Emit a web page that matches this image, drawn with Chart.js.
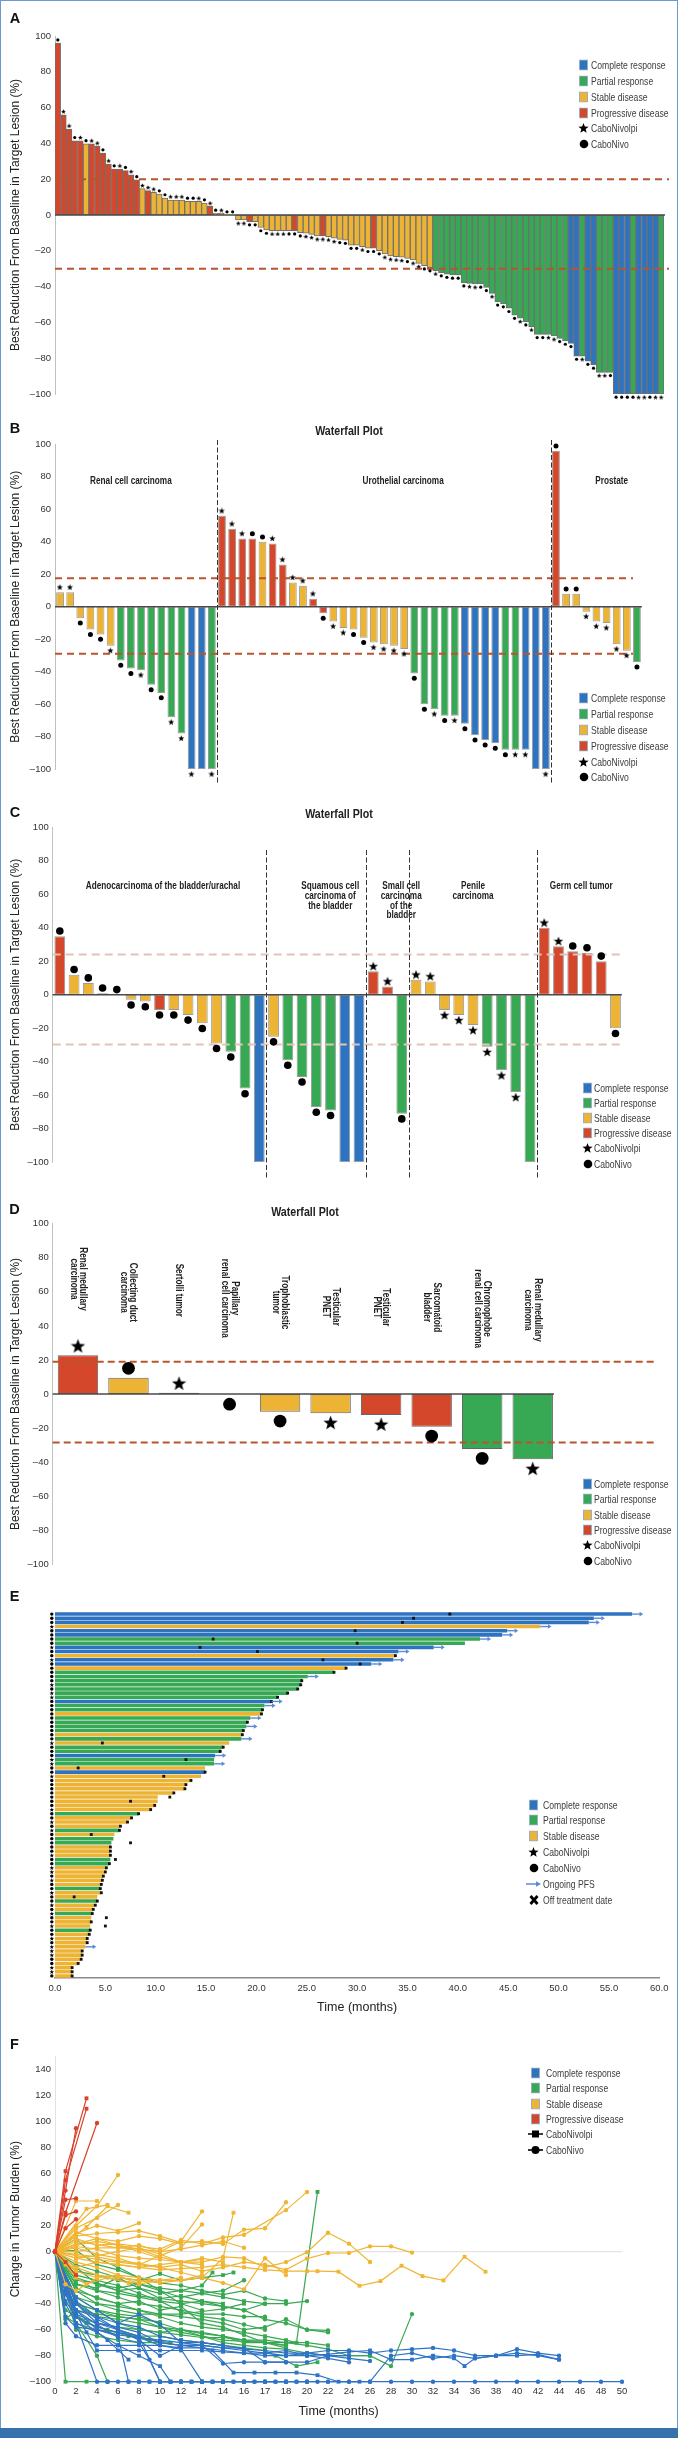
<!DOCTYPE html>
<html><head><meta charset="utf-8">
<script src="https://cdn.jsdelivr.net/npm/chart.js@4.4.0/dist/chart.umd.min.js"></script>
<style>
html,body{margin:0;padding:0;background:#fff}
#page{position:relative;width:678px;height:2438px;overflow:hidden;background:#fff}
#frame{position:absolute;left:0;top:0;width:676px;height:2436px;border:1px solid #6a9ad0;pointer-events:none;z-index:5}
#band{position:absolute;left:0;top:2428px;width:678px;height:10px;background:#3571ab;z-index:6}
canvas{position:absolute;left:0}
.plet{position:absolute;font:bold 14.5px "Liberation Sans",Arial,sans-serif;color:#111;transform:translate(-50%,-50%);z-index:3}
.ptit{position:absolute;font:bold 13px "Liberation Sans",Arial,sans-serif;color:#222;transform:translate(-50%,-50%) scaleX(0.82);white-space:nowrap;z-index:3}
.legt{position:absolute;font:10.5px "Liberation Sans",Arial,sans-serif;color:#3d3d3d;white-space:nowrap;transform:translateY(-50%) scaleX(0.82);transform-origin:left center;line-height:12px;z-index:3}
.legs{position:absolute;line-height:0;z-index:3}
</style></head>
<body><div id="page"><div id="frame"></div><div id="band"></div></div>
<script>
// ---------------- DATA ----------------
// Panel A: all patients
const aValues = [96,56,48,41.5,41.5,39.7,39.7,38.4,34.6,28.5, 25.7,25.7,24.8,22.5,19.6,14.7,13.6,12.7,11.7,9.5,
 8.4,8.4,8.4,7.6,7.6,7.6,6.7,4.8,0.9,0.9, 0,0,-2.8,-2.8,-3.7,-3.7,-7,-8.4,-8.8,-8.8,
 -8.8,-8.8,-8.8,-9.9,-10.2,-10.8,-11.7,-11.7,-12.1,-13, -13.6,-14,-16.8,-16.8,-17.7,-18.6,-18.6,-19.9,-21.8,-22.9,
 -23.3,-23.6,-24.2,-25.1,-27,-28.3,-29.4,-31.1,-32.2,-33, -33.5,-33.5,-37.8,-38.2,-38.5,-38.5,-40.4,-43.8,-48.5,-49.5,
 -52.1,-55.9,-57.7,-59.6,-62.4,-66.7,-66.7,-66.7,-67.6,-68.9, -70.4,-71.7,-78.8,-78.8,-81.6,-83.8,-87.9,-87.9,-87.9,-100,
 -100,-100,-100,-100,-100,-100,-100,-100];
const aResponse = "RRRRRYRRRR"+"RRRRRYRYYY"+"YYYYYYYRYY"+"YYYYRYYYYY"+"YYRYYYYRYY"+"YYYYYYRYYY"+"YYYYYYYGGG"+"GGGGGGGGGG"+"GGGGGGGGGG"+"GBBGBBGGGB"+"BBGBBBBG";
const aArm = "dssdsdssds"+"dsdsdsssdd"+"sssddsdsds"+"ddssddddss"+"sdddssssss"+"ddddsdddss"+"ssdssddsdd"+"dddssddsdd"+"ddsdsddssd"+"dddsddssdd"+"dddssdss";
const aPatients = aValues.map((_, i) => String(i + 1));
const aRefLines = [20, -30];

// Panel B: by tumour type
const bValues = [9,9,-7,-14,-17,-24,-33,-38,-39,-48,-53,-68,-78,-100,-100,-100,
 56,48,42,42,40,39,26,15,13,5,-4,-9,-13,-14,-19,-22,-23,-24,-26,-41,-60,-63,-67,-67,-72,-79,-82,-84,-88,-88,-88,-100,-100,
 96,8,8,-3,-9,-10,-23,-27,-34];
const bResponse = "YYYYYYGGGGGGGBBG"+"RRRRYRRYYR"+"RYYYYYYYY"+"GGGGG"+"BBBB"+"GGB"+"BB"+"RYYYYYYYG";
const bArm = "ssdddsddsddsssds"+"sssddsssss"+"dssddssss"+"ddsds"+"dddd"+"dss"+"ds"+"dddsssssd";
const bPatients = bValues.map((_, i) => String(i + 1));
const bGroupSizes = [16, 33, 9];
const bGroupNames = [["Renal cell carcinoma"], ["Urothelial carcinoma"], ["Prostate"]];
const bRefLines = [17.6, -28.9];

// Panel C: rare tumours
const cValues = [35,12,7,1,0,-3,-4,-9,-9,-12,-17,-29,-34,-56,-100,
 -25,-39,-49,-67,-69,-100,-100,
 14,5,-71,
 9,8,-9,-12,-18,-31,-45,-58,-100,
 40,29,26,25,20,-20];
const cResponse = "RYYYYYYRYYYYGGB"+"YGGGGBB"+"RRG"+"YYYYYGGGG"+"RRRRRY";
const cArm = "ddddddddddddddd"+"ddddddd"+"ssd"+"sssssssss"+"ssdddd";
const cPatients = cValues.map((_, i) => String(i + 1));
const cGroupSizes = [15, 7, 3, 9, 6];
const cGroupNames = [["Adenocarcinoma of the bladder/urachal"], ["Squamous cell","carcinoma of","the bladder"], ["Small cell","carcinoma","of the","bladder"], ["Penile","carcinoma"], ["Germ cell tumor"]];
const cRefLines = [24, -29.7];

// Panel D: ultra-rare tumours
const dTumors = [["Renal medullary","carcinoma"],["Collecting duct","carcinoma"],["Sertolli tumor"],["Papillary","renal cell carcinoma"],["Trophoblastic","tumor"],["Testicular","PNET"],["Testicular","PNET"],["Sarcomatoid","bladder"],["Chromophobe","renal cell carcinoma"],["Renal medullary","carcinoma"]];
const dValues = [22.7, 9.6, 0.8, -0.5, -10.4, -11.3, -12.3, -19.2, -32.3, -38.3];
const dResponse = "RYYNYYRRGG";
const dArm = "sdsddssdds";
const dRefLines = [19, -28.5];

// Panel E: swimmer plot (months)
const eMonths = [57.3,53.5,53.0,48.2,44.9,44.4,42.2,40.7,37.6,34.1, 33.8,33.6,31.4,28.9,27.7,25.1,24.5,24.4,24.1,23.1,
 22.1,21.5,20.8,20.6,20.5,19.4,19.1,19.0,18.7,18.6, 18.5,17.3,16.7,16.5,15.9,15.8,15.8,14.9,14.9,14.5,
 13.6,13.0,12.9,11.8,10.2,10.2,10.0,9.6,8.3,7.6, 7.2,6.5,6.4,5.9,5.8,5.6,5.5,5.5,5.5,5.5,
 5.4,5.1,5.0,4.8,4.7,4.6,4.5,4.6,4.2,4.2, 4.0,3.8,3.7,3.6,3.6,3.5,3.5,3.4,3.2,3.2,
 3.0,2.7,2.7,2.6,2.3,1.7,1.7,1.7];
const eResponse = "BBBYBBGGBB"+"YBBYGGGGGG"+"GBGGYGGGGY"+"GYGGBGGYBY"+"YYYYYYYYGY"+"YYGYGGYYYG"+"GYYYYYGYYG"+"YYGYYYGYYY"+"YYYYYYYY";
const eOffTreatment = [39.2,35.6,34.5,null,29.8,null,15.7,30.0,14.4,20.1, 33.8,26.6,30.3,28.9,27.7,null,24.5,24.4,24.1,23.1,
 22.1,21.5,null,20.6,20.5,null,19.1,null,18.7,18.6, null,4.7,16.7,16.4,null,13.0,null,2.3,14.9,10.8,
 13.5,13.0,12.9,11.8,11.4,7.5,9.9,9.5,8.3,7.6, 7.2,6.5,6.4,3.6,null,7.5,5.5,5.5,5.5,6.0,
 5.4,5.1,5.0,4.8,4.7,4.6,4.5,4.6,1.9,4.2, 4.0,3.8,3.7,5.1,3.6,5.0,3.5,3.4,3.2,3.2,
 null,2.7,2.7,2.6,2.3,1.7,1.7,1.7];
const eOngoing = [1,1,1,1,1,1,1,0,1,1, 0,1,1,0,0,1,0,0,0,0, 0,1,1,0,0,1,0,1,0,0, 1,0,0,0,1,0,1,0,0,0,
 0,0,0,0,0,0,0,0,0,0, 0,0,0,0,0,0,0,0,0,0, 0,0,0,0,0,0,0,0,0,0, 0,0,0,0,0,0,0,0,0,0, 1,0,0,0,0,0,0,0];
const eArm = "dddsddddsd"+"dsdddddsds"+"sddddddddd"+"dsdddssdds"+"dddddddsdd"+"sdsdddddsd"+"dssdsddsdd"+"sdsddsddsd"+"sssddssd";
const eTicks = [0,5,10,15,20,25,30,35,40,45,50,55,60];
const ePatients = eMonths.map((_, i) => String(i + 1));

// Panel F: spider plot, pairs [position, change %]
const fTickLabels = ['0','2','4','6','8','10','12','14','14','16','17','18','20','22','24','26','28','30','32','34','36','38','40','42','44','46','48','50'];
const fRed = [
 [0,0,1,62,3,118],[0,0,1,55,3,110],[0,0,1,47,2,95],[0,0,1,30,4,99],
 [0,0,1,40,2,41],[0,0,1,28,2,31],[0,0,1,18,2,25],[0,0,1,-8,2,-18]];
const fRedArm = "sscccccs";
const fYellow = [
 [0,0,2,20,4,35,6,59],[0,0,2,39,4,39],[0,0,3,33,5,36],[0,0,2,18,4,26,6,36],
 [0,0,3,19,5,35,7,30],[0,0,2,14,4,20,6,16,8,22],
 [0,0,2,12,4,14,6,15,8,16,10,12,12,7,14,8,16,6,18,17,20,18,22,38],
 [0,0,2,10,4,5,6,6,8,4,10,2,12,9,14,6,16,11,18,13,22,32,24,46],
 [0,0,2,8,6,3,8,5,10,0,12,8,14,31],[0,0,2,3,4,-2,6,-5,8,-10,10,-3,12,3,14,21],
 [0,0,2,-8,4,-12,6,-18,8,-20,10,-22,12,-22,14,-20,16,-5,17,30],
 [0,0,2,4,4,2,6,-3,8,-5,10,-6,12,-8,14,-8,16,-4,18,-5,20,-12,22,-8,24,-0.4,26,14.6,28,6.2,30,-7.9],
 [0,0,2,-3,4,-6,6,-8,8,-10,10,-12,12,-10,14,-15,16,-12,18,-8,20,-10,22,-14,24,-5.3,26,-1,28,-1,30,4.1,32,4.1,34,-0.7],
 [0,0,2,-5,4,-8,6,-10,8,-12,10,-14,12,-13,14,-12,16,-10,18,-12,20,-14,22,-15,24,-15,25,-15,27,-15.4,29,-26.2,31,-22.6,33,-10.8,35,-18.8,37,-22.1,39,-3.9,41,-15.4],
 [0,0,1,-10,2,-12,4,-8,6,-10,8,-12,10,-10,12,-8,14,-5,16,-8],
 [0,0,2,0,4,3,6,3,8,2,10,0,12,2,14,5,16,8,18,3],
 [0,0,2,-5,4,-3,6,0,8,3,10,-2,12,-8,14,-6],
 [0,0,2,-15,4,-20,6,-18,8,-25,10,-22,12,-20],
 [0,0,2,-20,3,-25,5,-20,7,-24,9,-22],
 [0,0,1,-25,2,-30,4,-20],
 [0,0,2,15,4,10,6,5,8,0,10,-5],
 [0,0,2,6,4,10,6,8,8,12,10,10,12,6],
 [0,0,2,-2,4,-4,6,-7,8,-9,10,-12,12,-16,14,-20,16,-24,18,-29,20,-5,22,-18],
 [0,0,2,-12,4,-18,6,-20,8,-22,10,-24,12,-22,14,-18],
 [0,0,2,5,4,8,6,5,8,2,10,-4,12,-8,14,-10]];
const fYellowArm = "csscscccccsccsscscscsccsc";
const fBlue = [
 [0,0,1,-40,2,-55,4,-100,5,-100,6,-100,7,-100,8,-100,9,-100,10,-100,11,-100,12,-100,13,-100,14,-100,15,-100,16,-100,17,-100,18,-100,19,-100,20,-100,21,-100,22,-100,23,-100,24,-100,25,-100,26,-100,28,-100,30,-100,32,-100,34,-100,36,-100,38,-100,40,-100,42,-100,44,-100,46,-100,48,-100,50,-100,52,-100,54,-100],
 [0,0,2,-45,4,-60,6,-65,7,-100,8,-100,9,-100,10,-100,11,-100,12,-100,13,-100,14,-100,15,-100,16,-100,17,-100,18,-100,19,-100,20,-100,21,-100,22,-100,23,-100,24,-100],
 [0,0,2,-40,4,-55,6,-60,8,-65,10,-100,12,-100,14,-100,16,-100,18,-100,20,-100,22,-100,24,-100,26,-100,28,-100,30,-100,32,-80,34,-78,36,-82,38,-80,40,-82,42,-80,44,-78,46,-80,48,-83],
 [0,0,2,-50,4,-58,6,-62,8,-66,10,-72,12,-75,14,-100,16,-100,18,-100,20,-100,22,-100],
 [0,0,1,-55,2,-65,4,-72,6,-72,8,-72,10,-72,12,-74,14,-74,16,-76,18,-78,20,-78,22,-80,24,-78,26,-76,28,-76,30,-78,32,-76,34,-75,36,-74,38,-76,40,-80,42,-80,44,-75,46,-78,48,-80],
 [0,0,1,-33,2,-48,3,-62,4,-76,6,-76,8,-76,10,-76,12,-76,14,-76,16,-77,18,-78,20,-80,22,-80,24,-80,26,-79,28,-77,30,-76,32,-83,34,-83,36,-80,38,-82,39,-88,40,-82,42,-80,44,-80,46,-79,48,-83],
 [0,0,2,-40,4,-52,6,-60,8,-68,10,-80,12,-72,14,-72,16,-74,18,-74,20,-85,22,-85,24,-85,26,-80,28,-82,30,-84],
 [0,0,2,-48,4,-55,6,-58,8,-62,10,-70,12,-72,14,-74,15,-76,17,-93,19,-93,21,-93,23,-93,25,-95,27,-100,29,-100],
 [0,0,2,-45,4,-50,6,-55,8,-48,10,-56,12,-70,14,-72,16,-86,18,-85,20,-85,22,-85],
 [0,0,2,-35,4,-45,6,-55,8,-58,10,-65,12,-68,14,-70,16,-72,18,-75,20,-76,22,-78,24,-78,26,-80,28,-80],
 [0,0,1,-30,2,-45,4,-56,6,-66,8,-70,9,-83,10,-100,12,-100],
 [0,0,2,-55,4,-62,5,-68,7,-83],
 [0,0,2,-38,4,-50,6,-60,8,-65,10,-70,12,-72,14,-72,16,-74,18,-76,20,-78,22,-76,24,-80,26,-82,28,-85],
 [0,0,1,-38,2,-50,4,-62,6,-72,8,-80,10,-88,11,-100,12,-100,13,-100,14,-100,15,-100,16,-100],
 [0,0,1,-50,2,-58,4,-60,6,-64,8,-66,10,-68,12,-70,14,-70,16,-72]];
const fBlueArm = "cscscscscscscsc";
const fGreen = [
 [0,0,1,-100,3,-100,5,-100],[0,0,2,-55,4,-80,5,-100],
 [0,0,2,-30,4,-35,6,-40,8,-45,10,-50,12,-55,14,-58,16,-60,18,-62,20,-65,22,-68,23,-70,25,46],
 [0,0,1,-30,2,-40,4,-45,6,-50,8,-52,10,-58,12,-62,14,-65,16,-70,18,-72,20,-74,22,-75,24,-78,26,-80,28,-80,30,-80,32,-88,34,-48],
 [0,0,2,-25,4,-28,6,-20,8,-22,10,-17,12,-22,14,-20,16,-18,17,-16],
 [0,0,2,-20,4,-25,6,-28,8,-25,10,-30,12,-35,14,-32,16,-30,18,-22],
 [0,0,2,-25,4,-30,6,-32,8,-35,10,-38,12,-40,14,-38,16,-42,18,-45,20,-40,22,-40,24,-38],
 [0,0,2,-35,4,-40,6,-42,8,-45,10,-48,12,-50,14,-52,16,-55,18,-60,20,-58,22,-52,24,-60,26,-60.5],
 [0,0,2,-40,4,-45,6,-48,8,-50,10,-55,12,-60,14,-62,16,-65,18,-68,20,-68,22,-70,24,-72,26,-75,28,-80,30,-80],
 [0,0,1,-50,2,-55,4,-60,6,-62,8,-65,10,-65,12,-68,14,-70,16,-72,18,-74,20,-76,21,-80,23,-88,25,-85],
 [0,0,2,-20,4,-30,6,-35,8,-40,10,-42,12,-45,14,-48,16,-48,18,-50,20,-50],
 [0,0,2,-30,4,-40,6,-45,8,-48,10,-48,12,-48,14,-46,16,-44,18,-40],
 [0,0,1,-45,2,-50,4,-55,6,-58,8,-60,10,-62,12,-64,14,-66,16,-66,18,-68,20,-70,22,-72],
 [0,0,2,-28,4,-36,6,-40,8,-38,10,-45,12,-42,14,-55,16,-58,18,-64,20,-70,22,-74],
 [0,0,2,-15,4,-18,6,-22,8,-25,10,-28,12,-30,14,-32,16,-35,18,-38,20,-40],
 [0,0,2,10,4,-5,6,-12,8,-20,10,-30,12,-40,14,-45],
 [0,0,2,-48,3,-55,5,-60,7,-65,9,-68,11,-70],
 [0,0,1,-52,2,-45,4,-48,6,-50,8,-52,10,-54],
 [0,0,2,-10,4,-15,6,-20,8,-28,10,-36,12,-38,14,-40,16,-42,18,-45,20,-52,22,-55,24,-60,26,-62],
 [0,0,2,-35,4,-45,6,-55,8,-60,10,-62,12,-60,14,-63,16,-65,18,-70,20,-70,22,-72],
 [0,0,2,-60,4,-65,6,-68,8,-70,10,-70],
 [0,0,2,-22,4,-24,6,-30,8,-34,10,-36,12,-34,14,-38,16,-40],
 [0,0,2,-18,4,-22,6,-26,8,-32,10,-38,12,-46,14,-50,16,-52,18,-56,20,-60],
 [0,0,2,-12,4,-25,6,-30,8,-28,10,-32,12,-30,14,-26,15,-16],
 [0,0,2,1,4,-10,6,-14,8,-20,10,-24,12,-26,14,-30,16,-33,18,-30,20,-36,22,-38],
 [0,0,2,-40,4,-50,6,-52,8,-55,10,-58,12,-60,14,-65,16,-68,18,-69,20,-70,22,-70,24,-70,26,-72]];
const fGreenArm = "scscscccsscsccscsccscscscs";

// ---------------- STYLE / RENDER ----------------
const FONT = '"Liberation Sans", Arial, sans-serif';
const NX = 0.82; // horizontal condensing for narrow text
const COL = {R:'#d5472b', Y:'#ecb334', G:'#37a853', B:'#2e73c0', N:'rgba(0,0,0,0)'};
const BROWN = '#b8552d', ARROW = '#5b8bd6';
const YTITLE = 'Best Reduction From Baseline in Target Lesion (%)';
Chart.defaults.font.family = FONT;
Chart.defaults.color = '#333';
const page = document.getElementById('page');
const fmt = v => v < 0 ? '\u2013' + Math.abs(v) : String(v);

function mk(top, h) {
  const c = document.createElement('canvas');
  c.width = 678; c.height = h; c.style.top = top + 'px';
  c.style.width = '678px'; c.style.height = h + 'px';
  page.appendChild(c); return c;
}
function drawStar(g, cx, cy, R) {
  g.beginPath();
  for (let i = 0; i < 10; i++) {
    const a = -Math.PI / 2 + i * Math.PI / 5, r = i % 2 ? R * 0.42 : R;
    g.lineTo(cx + r * Math.cos(a), cy + r * Math.sin(a));
  }
  g.closePath(); g.fill();
}
function starCanvas(s) {
  const c = document.createElement('canvas'); c.width = c.height = Math.ceil(s);
  const g = c.getContext('2d'); g.fillStyle = '#000'; drawStar(g, s / 2, s / 2 + s * 0.04, s / 2); return c;
}
function narrowText(ctx, t, x, y) { ctx.save(); ctx.translate(x, y); ctx.scale(NX, 1); ctx.fillText(t, 0, 0); ctx.restore(); }

function drawWF(chart, o) {
  const {ctx, chartArea: ca} = chart, x = chart.scales.x, y = chart.scales.y, n = o.values.length;
  const cw = x.getPixelForValue(1) - x.getPixelForValue(0);
  ctx.save();
  o.refs.forEach(v => {
    const py = y.getPixelForValue(v);
    ctx.strokeStyle = o.refColor; ctx.lineWidth = 2; ctx.setLineDash(o.refDash);
    ctx.beginPath(); ctx.moveTo(ca.left, py); ctx.lineTo(ca.left + o.refLen, py); ctx.stroke();
  });
  ctx.setLineDash([]);
  const z = y.getPixelForValue(0);
  ctx.strokeStyle = '#4a4a4a'; ctx.lineWidth = 1.4;
  ctx.beginPath(); ctx.moveTo(ca.left, z); ctx.lineTo(x.getPixelForValue(n - 1) + cw * o.barPct / 2 + 1, z); ctx.stroke();
  if (o.groups) {
    let acc = 0; const bounds = [];
    o.groups.forEach(g => { acc += g; bounds.push(acc); });
    ctx.strokeStyle = '#333'; ctx.lineWidth = 1; ctx.setLineDash([5, 2.5]);
    bounds.slice(0, -1).forEach(b => {
      const px = Math.round((x.getPixelForValue(b - 1) + x.getPixelForValue(b)) / 2) + 0.5;
      ctx.beginPath(); ctx.moveTo(px, ca.top + o.divTop); ctx.lineTo(px, ca.bottom + o.divBot); ctx.stroke();
    });
    ctx.setLineDash([]);
    ctx.fillStyle = '#1e1e1e'; ctx.font = 'bold 10px ' + FONT; ctx.textAlign = 'center'; ctx.textBaseline = 'middle';
    o.groupNames.forEach((lines, gi) => {
      const px = x.getPixelForValue(0) + cw * o.groupAt[gi];
      lines.forEach((t, li) => narrowText(ctx, t, px, y.getPixelForValue(o.groupY) + li * 9.7));
    });
  }
  if (o.rot) {
    ctx.fillStyle = '#1e1e1e'; ctx.font = 'bold 10px ' + FONT; ctx.textAlign = 'center'; ctx.textBaseline = 'middle';
    o.rot.labels.forEach((lines, i) => {
      ctx.save();
      ctx.translate(x.getPixelForValue(i), y.getPixelForValue(o.rot.at[i]));
      ctx.rotate(Math.PI / 2);
      lines.forEach((t, li) => narrowText(ctx, t, 0, (li - (lines.length - 1) / 2) * 9.4));
      ctx.restore();
    });
  }
  ctx.restore();
}

function waterfall(o) {
  const cv = mk(o.top, o.h);
  const resp = o.resp.split(''), arms = o.arms.split('');
  const mark = w => o.values.map((v, i) => arms[i] === w ? (v >= 0 ? v + o.off : v - o.off) : null);
  return new Chart(cv, {
    type: 'bar',
    data: { labels: o.labels, datasets: [
      {type:'line', data: mark('s'), showLine:false, pointStyle: starCanvas(o.star), pointRadius:3, clip:false, order:0},
      {type:'line', data: mark('d'), showLine:false, pointStyle:'circle', pointRadius:o.dotR, pointBackgroundColor:'#000', pointBorderColor:'#000', pointBorderWidth:0, clip:false, order:0},
      {type:'bar', data: o.values, backgroundColor: resp.map(r => COL[r]), borderColor: resp.map(r => r === 'N' ? 'rgba(0,0,0,0)' : o.border),
       borderWidth: 1, borderSkipped: false, barPercentage: o.barPct, categoryPercentage: 1, order: 1}
    ]},
    options: {
      responsive:false, animation:false, devicePixelRatio:1, events:[],
      layout:{padding:{top:o.pt, bottom:o.pb, right:o.pr, left:0}},
      plugins:{legend:{display:false}, tooltip:{enabled:false}},
      scales:{
        x:{display:false},
        y:{min:-100, max:100, afterFit: s => { s.width = o.ax; },
           ticks:{stepSize:20, padding:4, color:'#333', font:{size:9.5}, callback: v => fmt(v)},
           grid:{display:false, drawTicks:false},
           border:{display:true, color:'#b9c5b9', width:1},
           title:{display:true, text:YTITLE, color:'#222', font:{size:12, family:FONT}, padding:{top:8.8, bottom:0}}}
      }
    },
    plugins:[{id:'wf' + o.top, afterDatasetDraw(chart, args) { if (args.index === 2) drawWF(chart, o); }}]
  });
}

// A
waterfall({top:0, h:410, values:aValues, labels:aPatients, resp:aResponse, arms:aArm, off:1.8, star:5, dotR:1.6,
  border:'#707070', barPct:1, pt:36, pb:16, pr:14, ax:55, refs:aRefLines, refColor:BROWN, refDash:[7,5], refLen:614});
// B
waterfall({top:405, h:410, values:bValues, labels:bPatients, resp:bResponse, arms:bArm, off:3, star:6.5, dotR:2.5,
  border:'#9a9a9a', barPct:0.77, pt:39.3, pb:45.7, pr:36, ax:55, refs:bRefLines, refColor:BROWN, refDash:[7,5], refLen:578,
  groups:bGroupSizes, groupNames:bGroupNames, groupAt:[7.0, 33.9, 54.5], groupY:77, divTop:-4.3, divBot:15.7});
// C
waterfall({top:815, h:410, values:cValues, labels:cPatients, resp:cResponse, arms:cArm, off:3.1, star:10, dotR:3.8,
  border:'#9a9a9a', barPct:0.76, pt:12.3, pb:62.7, pr:55.4, ax:52.7, refs:cRefLines, refColor:'#e2c4b7', refDash:[8,5], refLen:570,
  groups:cGroupSizes, groupNames:cGroupNames, groupAt:[7.24, 18.98, 23.96, 29.0, 36.6], groupY:64.7, divTop:22.7, divBot:16.7});
// D
waterfall({top:1200, h:375, values:dValues, labels:dTumors.map(t => t.join(' ')), resp:dResponse, arms:dArm, off:5.5, star:15, dotR:6.4,
  border:'#666', barPct:0.8, pt:23.7, pb:10.7, pr:120, ax:52.7, refs:dRefLines, refColor:BROWN, refDash:[7,4], refLen:602,
  rot:{labels:dTumors, at:[67.5, 59.7, 60.9, 56.2, 53.8, 51.2, 50.9, 50.9, 50.1, 49.3]}});

// E swimmer
const ePlug = {id:'eplug', afterDatasetsDraw(chart) {
  const {ctx, chartArea: ca} = chart, xs = chart.scales.x, ys = chart.scales.y;
  ctx.save(); ctx.fillStyle = '#000';
  eArm.split('').forEach((a, i) => {
    const py = ys.getPixelForValue(i), px = ca.left - 3.2;
    if (a === 's') drawStar(ctx, px, py + 0.2, 2.4);
    else { ctx.beginPath(); ctx.arc(px, py, 1.7, 0, Math.PI * 2); ctx.fill(); }
  });
  ctx.strokeStyle = ARROW; ctx.fillStyle = ARROW; ctx.lineWidth = 1.4;
  eOngoing.forEach((f, i) => {
    if (!f) return;
    const py = ys.getPixelForValue(i), x0 = xs.getPixelForValue(eMonths[i]), x1 = xs.getPixelForValue(eMonths[i] + 1.1);
    ctx.beginPath(); ctx.moveTo(x0, py); ctx.lineTo(x1 - 3, py); ctx.stroke();
    ctx.beginPath(); ctx.moveTo(x1, py); ctx.lineTo(x1 - 3.6, py - 2.3); ctx.lineTo(x1 - 3.6, py + 2.3); ctx.closePath(); ctx.fill();
  });
  ctx.restore();
}};
new Chart(mk(1575, 445), {
  type:'bar',
  data:{labels:ePatients, datasets:[
    {type:'line', indexAxis:'y', data:eOffTreatment, showLine:false, pointStyle:'rect', pointRadius:2, pointBackgroundColor:'#111', pointBorderWidth:0, clip:false, order:0},
    {type:'bar', data:eMonths, backgroundColor:eResponse.split('').map(r => COL[r]), borderWidth:0, barPercentage:0.86, categoryPercentage:1, order:1}
  ]},
  options:{indexAxis:'y', responsive:false, animation:false, devicePixelRatio:1, events:[],
    layout:{padding:{top:37, bottom:0, left:55, right:18.7}},
    plugins:{legend:{display:false}, tooltip:{enabled:false}},
    scales:{
      x:{type:'linear', min:0, max:60, afterFit: s => { s.height = 42; },
         afterBuildTicks: s => { s.ticks = eTicks.map(v => ({value:v})); },
         ticks:{padding:5, color:'#333', font:{size:9.5}, callback: v => Number(v).toFixed(1)},
         grid:{display:false, drawTicks:false}, border:{display:true, color:'#8a8a8a', width:1.5},
         title:{display:true, text:'Time (months)', color:'#222', font:{size:12.5, family:FONT}, padding:{top:0, bottom:4.5}}},
      y:{display:false}
    }},
  plugins:[ePlug]
});

// F spider
const pairs = a => { const r = []; for (let i = 0; i < a.length; i += 2) r.push({x:a[i], y:a[i + 1]}); return r; };
const fSets = [];
[[fRed, fRedArm, '#d9412b'], [fYellow, fYellowArm, '#f0b533'], [fBlue, fBlueArm, '#2f73c4'], [fGreen, fGreenArm, '#38a852']].forEach(([lines, arms, col]) => {
  lines.forEach((pts, i) => {
    const sq = arms[i] === 's';
    fSets.push({data:pairs(pts), borderColor:col, backgroundColor:col, pointBackgroundColor:col, pointBorderColor:col, pointBorderWidth:0,
      pointStyle: sq ? 'rect' : 'circle', pointRadius: sq ? 2.7 : 2.2, borderWidth:1.2, tension:0, clip:false});
  });
});
new Chart(mk(2020, 408), {
  type:'line', data:{datasets:fSets},
  options:{responsive:false, animation:false, devicePixelRatio:1, events:[],
    layout:{padding:{top:36.7, bottom:0, left:0, right:56}},
    plugins:{legend:{display:false}, tooltip:{enabled:false}},
    scales:{
      x:{type:'linear', min:0, max:54, afterFit: s => { s.height = 46.3; },
         ticks:{stepSize:2, autoSkip:false, maxRotation:0, padding:4, color:'#333', font:{size:9.5}, callback: v => fTickLabels[Math.round(v / 2)]},
         grid:{display:false, drawTicks:false}, border:{display:false},
         title:{display:true, text:'Time (months)', color:'#222', font:{size:12.5, family:FONT}, padding:{top:0, bottom:8.5}}},
      y:{min:-100, max:150, afterFit: s => { s.width = 55; },
         ticks:{stepSize:20, includeBounds:false, padding:4, color:'#333', font:{size:9.5}, callback: v => v > 140 ? '' : fmt(v)},
         grid:{drawTicks:false, color: c => (c.tick && c.tick.value === 0) ? '#e4e4e4' : 'rgba(0,0,0,0)', lineWidth:1.2},
         border:{display:true, color:'#e2e2e2', width:1},
         title:{display:true, text:'Change in Tumor Burden (%)', color:'#222', font:{size:12, family:FONT}, padding:{top:8.8, bottom:0}}}
    }}
});

// ---------------- TEXT & LEGENDS ----------------
function txt(cls, x, y, t) { const d = document.createElement('div'); d.className = cls; d.style.left = x + 'px'; d.style.top = y + 'px'; d.textContent = t; page.appendChild(d); }
[['A',15,18],['B',15,428],['C',15,812],['D',14.5,1209],['E',14.5,1596],['F',14.5,2044]].forEach(a => txt('plet', a[1], a[2], a[0]));
txt('ptit', 349, 430, 'Waterfall Plot');
txt('ptit', 338.5, 812.5, 'Waterfall Plot');
txt('ptit', 305, 1211, 'Waterfall Plot');

function starPts(cx, cy, R) { const p = []; for (let i = 0; i < 10; i++) { const a = -Math.PI / 2 + i * Math.PI / 5, r = i % 2 ? R * 0.42 : R; p.push((cx + r * Math.cos(a)).toFixed(2) + ',' + (cy + r * Math.sin(a)).toFixed(2)); } return p.join(' '); }
function sym(it) {
  switch (it.t) {
    case 'sq': return {w:9, svg:`<svg width="9" height="11"><rect x="0.5" y="0.5" width="8" height="10" fill="${it.c}" stroke="#98aec6" stroke-width="1"/></svg>`};
    case 'star': return {w:11, svg:`<svg width="11" height="11">${'<polygon points="' + starPts(5.5, 5.9, 5.4) + '" fill="#000"/>'}</svg>`};
    case 'dot': return {w:10, svg:`<svg width="10" height="10"><circle cx="5" cy="5" r="4.3" fill="#000"/></svg>`};
    case 'arrow': return {w:15, svg:`<svg width="15" height="8"><line x1="0" y1="4" x2="11" y2="4" stroke="${ARROW}" stroke-width="1.5"/><polygon points="15,4 10,1.3 10,6.7" fill="${ARROW}"/></svg>`};
    case 'x': return {w:10, svg:`<svg width="10" height="11"><path d="M1.5 1.5 L8.5 9.5 M8.5 1.5 L1.5 9.5" stroke="#000" stroke-width="2.8"/></svg>`};
    case 'lsq': return {w:15, svg:`<svg width="15" height="9"><line x1="0" y1="4.5" x2="15" y2="4.5" stroke="#000" stroke-width="1.6"/><rect x="4" y="1" width="7" height="7" fill="#000"/></svg>`};
    case 'ldot': return {w:15, svg:`<svg width="15" height="10"><line x1="0" y1="5" x2="15" y2="5" stroke="#000" stroke-width="1.6"/><circle cx="7.5" cy="5" r="4" fill="#000"/></svg>`};
  }
}
function legend(cx, tx, rows, items) {
  items.forEach((it, i) => {
    const s = sym(it), d = document.createElement('div');
    d.className = 'legs'; d.style.left = (cx - s.w / 2) + 'px'; d.style.top = rows[i] + 'px'; d.style.transform = 'translateY(-50%)';
    d.innerHTML = s.svg; page.appendChild(d);
    txt('legt', tx, rows[i], it.l);
  });
}
const resp4 = [{t:'sq', c:COL.B, l:'Complete response'}, {t:'sq', c:COL.G, l:'Partial response'}, {t:'sq', c:COL.Y, l:'Stable disease'}, {t:'sq', c:COL.R, l:'Progressive disease'}];
const armsLeg = [{t:'star', l:'CaboNivolpi'}, {t:'dot', l:'CaboNivo'}];
legend(583.5, 591, [65,81,97,113,128,144], resp4.concat(armsLeg));
legend(583.5, 591, [698,714,730,746,762,777], resp4.concat(armsLeg));
legend(587.5, 594, [1087.7,1103,1118.3,1133.3,1148.3,1163.7], resp4.concat(armsLeg));
legend(587.5, 594, [1484,1499.3,1514.7,1530,1545.3,1560.7], resp4.concat(armsLeg));
legend(533.5, 543, [1804.7,1820.3,1836,1852,1868,1883.7,1900], resp4.slice(0, 3).concat(armsLeg, [{t:'arrow', l:'Ongoing PFS'}, {t:'x', l:'Off treatment date'}]));
legend(535, 545.6, [2073,2088.3,2103.7,2119,2134.3,2149.7], resp4.concat([{t:'lsq', l:'CaboNivolpi'}, {t:'ldot', l:'CaboNivo'}]));
</script>
</body></html>
